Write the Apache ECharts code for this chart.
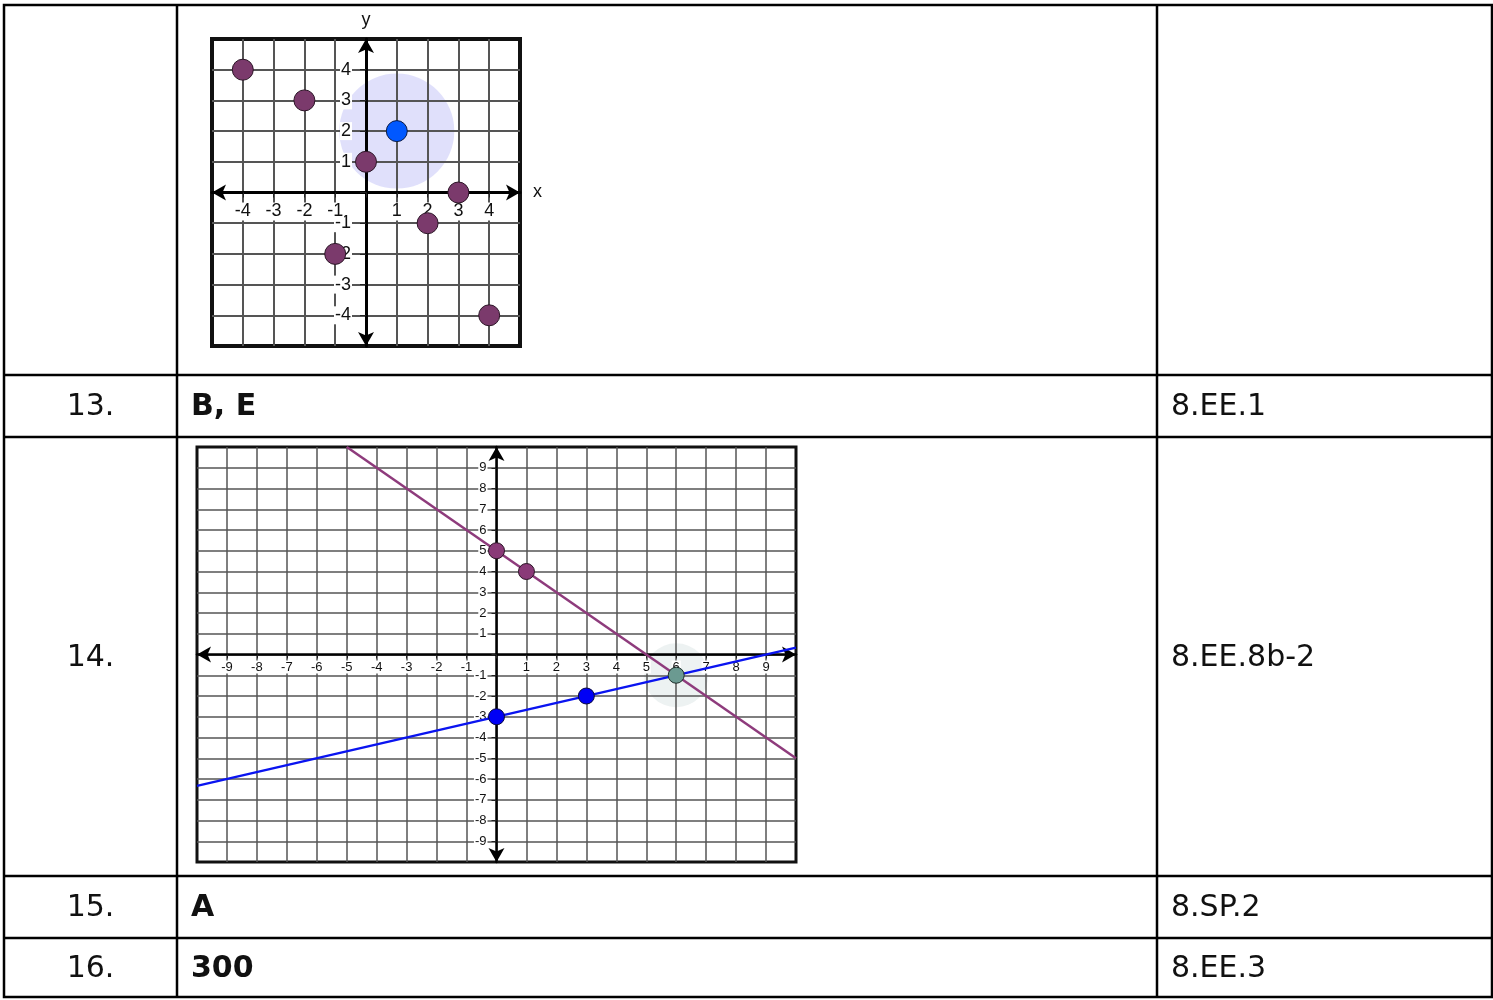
<!DOCTYPE html>
<html>
<head>
<meta charset="utf-8">
<script src="https://cdn.jsdelivr.net/npm/echarts@6/dist/echarts.min.js"></script>
<style>
html,body{margin:0;padding:0;background:#fff;}
#main{width:1493px;height:1000px;}
</style>
</head>
<body>
<div id="main"></div>
<script>
// ---- table text ----
const rowNumbers = ['', '13.', '14.', '15.', '16.'];
const answers = ['', 'B, E', '', 'A', '300'];
const standards = ['', '8.EE.1', '8.EE.8b-2', '8.SP.2', '8.EE.3'];

// ---- plot 1 (row 12) ----
const plot1Range = [-5, 5];
const plot1Points = [[-4, 4], [-2, 3], [0, 1], [3, 0], [2, -1], [-1, -2], [4, -4]];
const plot1Highlight = [[1, 2]];

// ---- plot 2 (row 14) ----
const plot2Range = [-10, 10];
const plot2PurpleLine = [[-5, 10], [10, -5]];
const plot2BlueLine = [[-10, -6.33], [10, 0.33]];
const plot2PurplePoints = [[0, 5], [1, 4]];
const plot2BluePoints = [[0, -3], [3, -2]];
const plot2Intersection = [[6, -1]];

// ---- layout ----
const T = {left: 4, right: 1492, top: 5, bottom: 997};
const colX = [177, 1157];
const rowY = [375, 437, 876, 938];
const rowCenters = [190, 407, 658, 908, 969];
const G1 = {left: 212, top: 39, width: 308, height: 307};
const G2 = {left: 197, top: 447, width: 599, height: 415};

const chart = echarts.init(document.getElementById('main'), null, {renderer: 'canvas'});

function labelFmt(limit) {
  return function (v) {
    if (v === 0 || Math.abs(v) === limit) return '';
    return '{w|' + v + '}';
  };
}

function makeAxis(gridIndex, range, isX, g, opts) {
  return {
    type: 'value',
    gridIndex: gridIndex,
    min: range[0], max: range[1], interval: 1,
    position: isX ? 'bottom' : 'left',
    offset: isX ? -g.height / 2 : -g.width / 2,
    name: opts.name || '',
    nameLocation: 'end',
    nameGap: opts.nameGap || 10,
    nameTextStyle: {fontFamily: 'Liberation Sans', fontSize: opts.nameSize || opts.fontSize, color: '#111', padding: opts.namePad || 0},
    axisLine: {
      show: true, onZero: false,
      symbol: ['arrow', 'arrow'], symbolSize: opts.arrow,
      lineStyle: {color: '#000', width: opts.axisWidth}
    },
    axisTick: {show: true, length: opts.tickLen, lineStyle: {color: '#222', width: 1}},
    axisLabel: {
      show: true, margin: opts.margin,
      showMinLabel: false, showMaxLabel: false,
      formatter: labelFmt(range[1]),
      rich: {w: {fontFamily: 'Liberation Sans', fontSize: opts.fontSize, color: '#111', backgroundColor: '#fff', padding: [0, 1]}}
    },
    splitLine: {show: true, showMinLine: false, showMaxLine: false, lineStyle: {color: opts.gridColor, width: opts.gridWidth}},
    axisPointer: {show: false}
  };
}

const graphics = [];
const lineStyle = {stroke: '#000', lineWidth: 2.5};
graphics.push({type: 'rect', shape: {x: T.left, y: T.top, width: T.right - T.left, height: T.bottom - T.top}, style: {fill: null, stroke: '#000', lineWidth: 2.5}, z: 100});
colX.forEach(function (x) {
  graphics.push({type: 'line', shape: {x1: x, y1: T.top, x2: x, y2: T.bottom}, style: lineStyle, z: 100});
});
rowY.forEach(function (y) {
  graphics.push({type: 'line', shape: {x1: T.left, y1: y, x2: T.right, y2: y}, style: lineStyle, z: 100});
});
rowNumbers.forEach(function (t, i) {
  if (!t) return;
  graphics.push({type: 'text', x: (T.left + colX[0]) / 2, y: rowCenters[i], style: {text: t, font: '30px "DejaVu Sans"', fill: '#111', align: 'center', verticalAlign: 'middle'}, z: 100});
});
answers.forEach(function (t, i) {
  if (!t) return;
  graphics.push({type: 'text', x: 191, y: rowCenters[i], style: {text: t, font: 'bold 30px "DejaVu Sans"', fill: '#111', align: 'left', verticalAlign: 'middle'}, z: 100});
});
standards.forEach(function (t, i) {
  if (!t) return;
  graphics.push({type: 'text', x: 1171, y: rowCenters[i], style: {text: t, font: '30px "DejaVu Sans"', fill: '#111', align: 'left', verticalAlign: 'middle'}, z: 100});
});

const option = {
  animation: false,
  backgroundColor: '#fff',
  grid: [
    Object.assign({show: true, borderColor: '#111', borderWidth: 4, backgroundColor: 'transparent', containLabel: false}, G1),
    Object.assign({show: true, borderColor: '#111', borderWidth: 3, backgroundColor: 'transparent', containLabel: false}, G2)
  ],
  xAxis: [
    makeAxis(0, plot1Range, true, G1, {name: 'x', nameGap: 13, nameSize: 18, namePad: [6, 0, 0, 0], fontSize: 18, arrow: [12, 14], axisWidth: 3, tickLen: 5, margin: 10, gridColor: '#555', gridWidth: 2}),
    makeAxis(1, plot2Range, true, G2, {fontSize: 13, arrow: [12, 14], axisWidth: 2.5, tickLen: 4, margin: 6, gridColor: '#555', gridWidth: 1.5})
  ],
  yAxis: [
    makeAxis(0, plot1Range, false, G1, {name: 'y', nameGap: 10, nameSize: 18, fontSize: 18, arrow: [12, 14], axisWidth: 3, tickLen: 6, margin: 14, gridColor: '#555', gridWidth: 2}),
    makeAxis(1, plot2Range, false, G2, {fontSize: 13, arrow: [12, 14], axisWidth: 2.5, tickLen: 5, margin: 9, gridColor: '#555', gridWidth: 1.5})
  ],
  series: [
    {type: 'scatter', xAxisIndex: 0, yAxisIndex: 0, data: plot1Highlight, symbolSize: 115, z: -1, silent: true,
      itemStyle: {color: 'rgba(180,180,245,0.42)', borderWidth: 0, opacity: 1}},
    {type: 'scatter', xAxisIndex: 0, yAxisIndex: 0, data: plot1Points, symbolSize: 21, z: 3,
      itemStyle: {color: '#7B3A6C', borderColor: '#2b1526', borderWidth: 1, opacity: 1}},
    {type: 'scatter', xAxisIndex: 0, yAxisIndex: 0, data: plot1Highlight, symbolSize: 21, z: 3,
      itemStyle: {color: '#0058FF', borderColor: '#0a1a44', borderWidth: 1, opacity: 1}},
    {type: 'scatter', xAxisIndex: 1, yAxisIndex: 1, data: plot2Intersection, symbolSize: 64, z: -1, silent: true,
      itemStyle: {color: 'rgba(200,215,215,0.32)', borderWidth: 0, opacity: 1}},
    {type: 'line', xAxisIndex: 1, yAxisIndex: 1, data: plot2PurpleLine, symbol: 'none', z: 2,
      lineStyle: {color: '#8E3B7C', width: 2.5}},
    {type: 'line', xAxisIndex: 1, yAxisIndex: 1, data: plot2BlueLine, symbol: 'none', z: 2,
      lineStyle: {color: '#0A14F0', width: 2.5}},
    {type: 'scatter', xAxisIndex: 1, yAxisIndex: 1, data: plot2PurplePoints, symbolSize: 16, z: 3,
      itemStyle: {color: '#8A3A78', borderColor: '#2b1526', borderWidth: 1, opacity: 1}},
    {type: 'scatter', xAxisIndex: 1, yAxisIndex: 1, data: plot2BluePoints, symbolSize: 16, z: 3,
      itemStyle: {color: '#0000F5', borderColor: '#0a0a40', borderWidth: 1, opacity: 1}},
    {type: 'scatter', xAxisIndex: 1, yAxisIndex: 1, data: plot2Intersection, symbolSize: 16, z: 3,
      itemStyle: {color: '#6B9A91', borderColor: '#1e2e2a', borderWidth: 1, opacity: 1}}
  ],
  graphic: graphics
};
chart.setOption(option);
</script>
</body>
</html>
